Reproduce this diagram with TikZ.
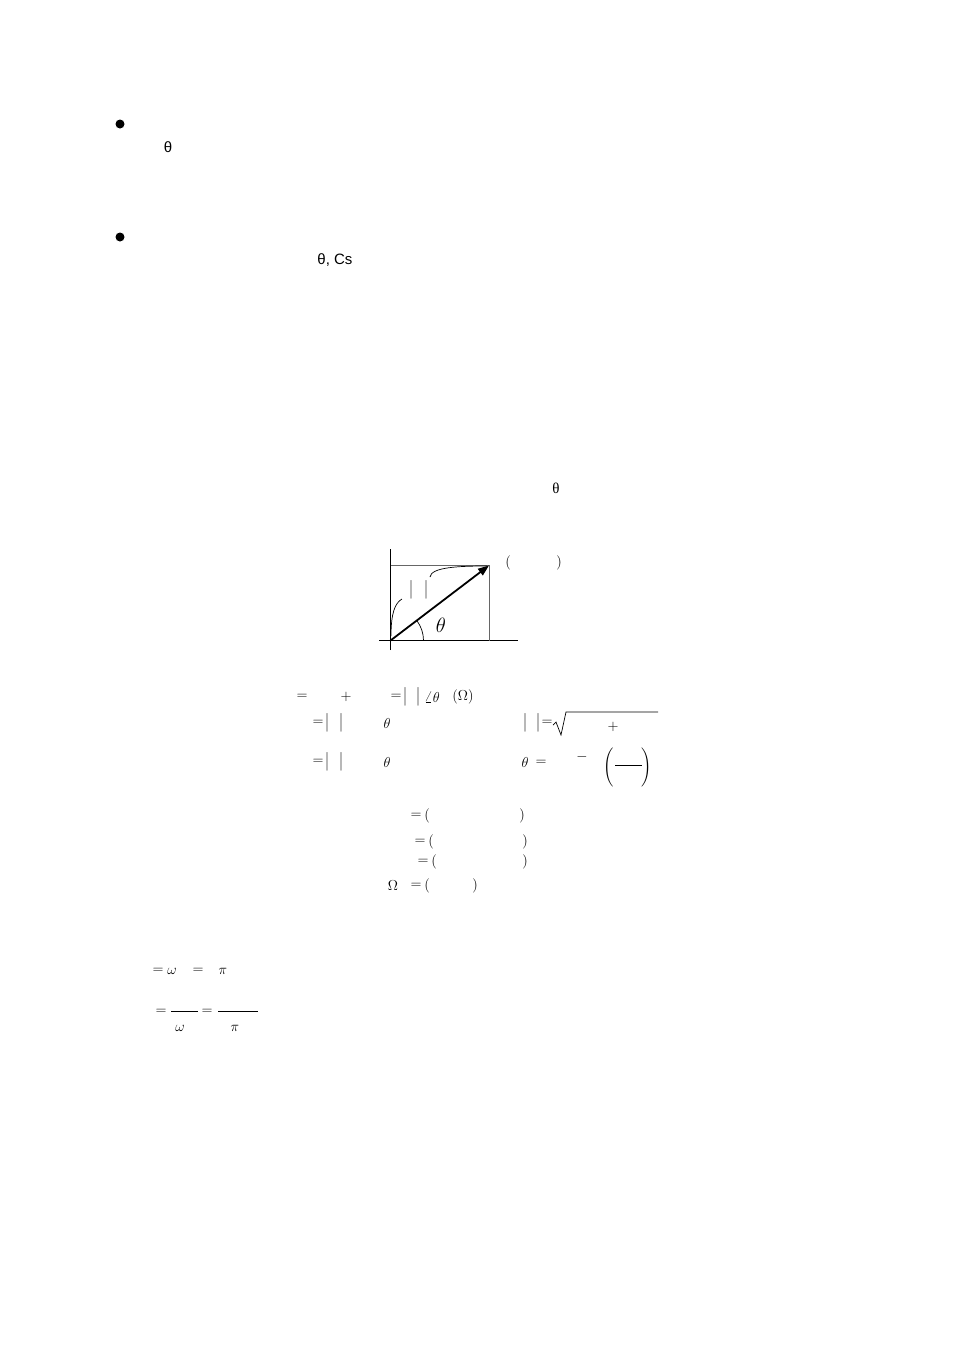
\documentclass[tikz,border=0pt]{standalone}
\usepackage{fontspec}
\newfontfamily\arialf{Liberation Sans}
\newfontfamily\timesf{Liberation Serif}
\usetikzlibrary{arrows.meta}
\newcommand\eqf{\fontsize{15}{18}\selectfont}
\newcommand\bigthf{\fontsize{21}{24}\selectfont}
\newcommand\tallbar{\scalebox{1}[1.3]{$|$}}
\tikzset{
  eq/.style={inner sep=0pt, font=\eqf},
  sanstxt/.style={inner sep=0pt, font=\arialf\fontsize{15}{18}\selectfont},
  serftxt/.style={inner sep=0pt, font=\timesf\fontsize{15}{18}\selectfont},
  bulletdot/.style={circle, fill=black, inner sep=0pt, minimum size=9pt},
  axisline/.style={line width=0.9pt, line cap=butt},
  guideline/.style={line width=0.7pt, draw=black!60},
  vecline/.style={line width=1.8pt, -{Triangle[length=11pt,width=8pt]}},
  thinline/.style={line width=0.7pt},
}
\begin{document}
\begin{tikzpicture}[x=1pt,y=1pt]
\fill[white] (0,0) rectangle (954,-1350);
\useasboundingbox (0,0) rectangle (954,-1350);

% bullets and sans text
\node[bulletdot] (b1) at (120,-124) {};
\node[bulletdot] (b2) at (120,-237) {};
\node[sanstxt] (t1) at (168,-147) {θ};
\node[sanstxt] (t2) at (335,-260) {θ, Cs};
\node[serftxt] (t3) at (556,-488) {θ};

% phasor diagram
\coordinate (O) at (390.5,-640.5);
\coordinate (P) at (489,-565.5);
\coordinate (ytop) at (390.5,-549);
\coordinate (ybot) at (390.5,-650);
\coordinate (xl) at (379,-640.5);
\coordinate (xr) at (517.5,-640.5);
\coordinate (Ptop) at (390.5,-565.5);
\coordinate (Pbot) at (489,-640.5);
\coordinate (arcstart) at (423.5,-640.5);
\draw[axisline] (ybot) -- (ytop);
\draw[axisline] (xl) -- (xr);
\draw[guideline] (Ptop) -- (P) -- (Pbot);
\draw[vecline] (O) -- (P);
\draw[thinline] (arcstart) arc[start angle=0, end angle=37, radius=33];
\node[eq, font=\bigthf] (thA) at (441,-625) {$\theta$};
\coordinate (lc1) at (391,-636);
\coordinate (lc2) at (402,-599);
\coordinate (rc1) at (430,-577);
\coordinate (rc2) at (487,-566);
\draw[thinline] (lc1) .. controls (391,-613) and (395,-603) .. (lc2);
\draw[thinline] (rc1) .. controls (431,-567) and (460,-566) .. (rc2);
\node[eq] (zb1) at (411,-590) {\tallbar};
\node[eq] (zb2) at (426,-590) {\tallbar};
\node[eq] (pl) at (508,-563) {$($};
\node[eq] (pr) at (559,-563) {$)$};

% line 1
\node[eq] (e1a) at (302,-697) {$=$};
\node[eq] (e1b) at (346,-697) {$+$};
\node[eq] (e1c) at (396,-697) {$=$};
\node[eq] (e1d) at (405,-697) {\tallbar};
\node[eq] (e1e) at (418,-697) {\tallbar};
\node[eq] (e1f) at (432,-697) {$\angle\theta$};
\node[eq] (e1g) at (463,-697) {$(\Omega)$};

% line 2
\node[eq] (e2a) at (318,-723) {$=$};
\node[eq] (e2b) at (327,-723) {\tallbar};
\node[eq] (e2c) at (341,-723) {\tallbar};
\node[eq] (e2d) at (387,-723) {$\theta$};
\node[eq] (e2e) at (525,-723) {\tallbar};
\node[eq] (e2f) at (538,-723) {\tallbar};
\node[eq] (e2g) at (547,-723) {$=$};
\node[eq] (e2h) at (613,-727) {$+$};
\coordinate (r1) at (553,-725);
\coordinate (r2) at (556,-722);
\coordinate (r3) at (561,-735);
\coordinate (r4) at (566,-712);
\coordinate (r5) at (658,-712);
\draw[thinline, line join=miter] (r1) -- (r2) -- (r3) -- (r4) -- (r5);

% line 3
\node[eq] (e3a) at (318,-762) {$=$};
\node[eq] (e3b) at (327,-762) {\tallbar};
\node[eq] (e3c) at (341,-762) {\tallbar};
\node[eq] (e3d) at (387,-762) {$\theta$};
\node[eq] (e3e) at (525,-762) {$\theta$};
\node[eq] (e3f) at (541,-763) {$=$};
\node[eq] (e3g) at (582,-757) {$-$};
\node[eq] (e3h) at (609,-767) {\scalebox{1.3}{$\Bigg($}};
\node[eq] (e3i) at (647,-767) {\scalebox{1.3}{$\Bigg)$}};
\coordinate (f3a) at (615,-765);
\coordinate (f3b) at (642,-765);
\draw[thinline] (f3a) -- (f3b);

% lines 4-7
\node[eq] (e4a) at (416,-816) {$=$};
\node[eq] (e4b) at (427,-816) {$($};
\node[eq] (e4c) at (522,-816) {$)$};
\node[eq] (e5a) at (420,-842) {$=$};
\node[eq] (e5b) at (431,-842) {$($};
\node[eq] (e5c) at (525,-842) {$)$};
\node[eq] (e6a) at (423,-862) {$=$};
\node[eq] (e6b) at (434,-862) {$($};
\node[eq] (e6c) at (525,-862) {$)$};
\node[eq] (e7a) at (393,-886) {$\Omega$};
\node[eq] (e7b) at (416,-886) {$=$};
\node[eq] (e7c) at (427,-886) {$($};
\node[eq] (e7d) at (475,-886) {$)$};

% lines 8-9
\node[eq] (e8a) at (158,-971) {$=$};
\node[eq] (e8b) at (172,-971) {$\omega$};
\node[eq] (e8c) at (198,-971) {$=$};
\node[eq] (e8d) at (223,-971) {$\pi$};
\node[eq] (e9a) at (161,-1012) {$=$};
\coordinate (f9a) at (171,-1011);
\coordinate (f9b) at (198,-1011);
\draw[thinline] (f9a) -- (f9b);
\node[eq] (e9b) at (180,-1028) {$\omega$};
\node[eq] (e9c) at (207,-1012) {$=$};
\coordinate (f9c) at (218,-1011);
\coordinate (f9d) at (258,-1011);
\draw[thinline] (f9c) -- (f9d);
\node[eq] (e9d) at (235,-1028) {$\pi$};
\end{tikzpicture}
\end{document}
